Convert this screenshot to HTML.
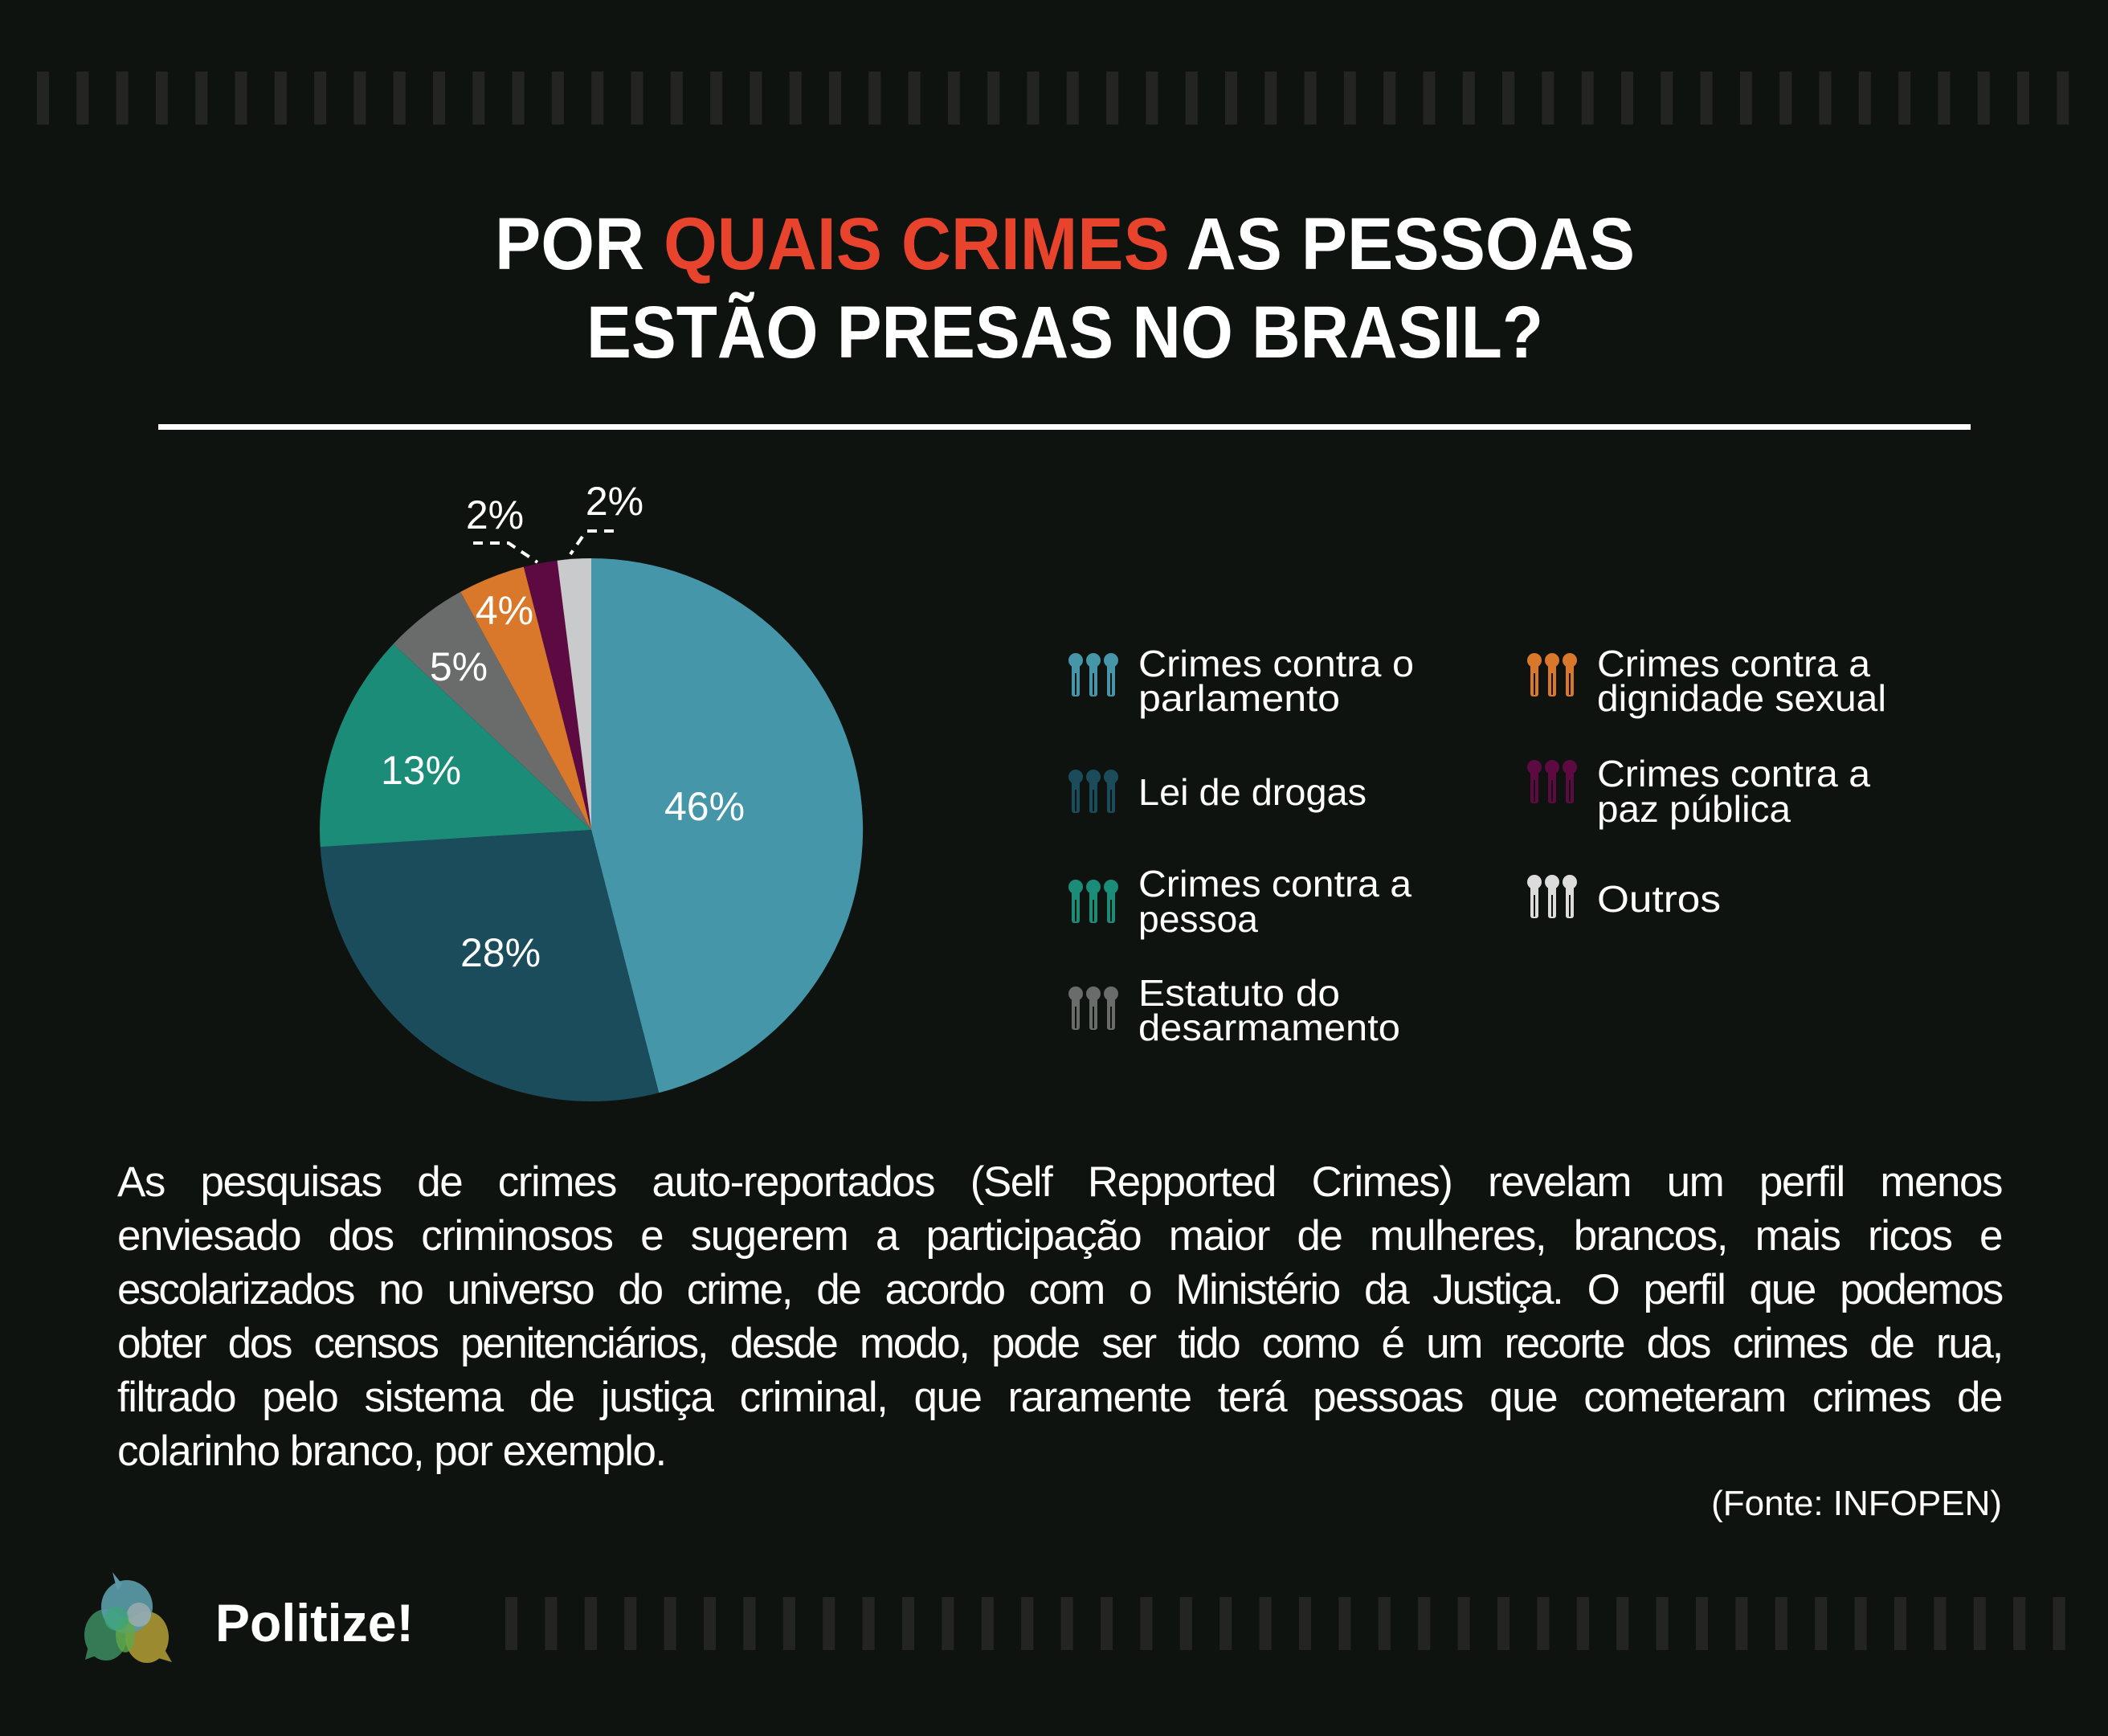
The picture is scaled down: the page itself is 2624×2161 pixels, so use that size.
<!DOCTYPE html>
<html><head><meta charset="utf-8"><style>
html,body{margin:0;padding:0;background:#0f130f;}
svg{display:block;}
text{font-family:"Liberation Sans",sans-serif;}
#para{position:absolute;left:146px;top:1438px;width:2346px;font-family:"Liberation Sans",sans-serif;font-size:53px;color:#fff;line-height:67px;letter-spacing:-1.5px;}
#para div{white-space:nowrap;text-align:justify;text-align-last:justify;height:67px;}
#para div.t{letter-spacing:-2.3px;}
#para div.last{text-align-last:left;}
</style></head><body>
<svg width="2624" height="2161" viewBox="0 0 2624 2161" xmlns="http://www.w3.org/2000/svg" style="position:absolute;left:0;top:0">
<defs>
<pattern id="tb" x="46" y="0" width="49.3" height="2161" patternUnits="userSpaceOnUse"><rect x="0" y="0" width="15" height="2161" fill="#242522"/></pattern>
<pattern id="bb" x="629" y="0" width="49.4" height="2161" patternUnits="userSpaceOnUse"><rect x="0" y="0" width="15" height="2161" fill="#242522"/></pattern>
<g id="ico">
<circle cx="9" cy="10" r="9"/><rect x="4" y="14" width="10" height="41" rx="3"/>
<rect x="8" y="26" width="2" height="27" fill="#0f130f"/>
</g>
<g id="ico3"><use href="#ico" x="0"/><use href="#ico" x="22"/><use href="#ico" x="44"/></g>
</defs>
<rect width="2624" height="2161" fill="#0f130f"/>
<rect x="46" y="89" width="2540" height="66" fill="url(#tb)"/>
<rect x="629" y="1988" width="1960" height="66" fill="url(#bb)"/>

<text y="335" x="616" font-size="92" font-weight="bold" fill="#fff" textLength="1419" lengthAdjust="spacingAndGlyphs">POR <tspan fill="#e8432d">QUAIS CRIMES</tspan> AS PESSOAS</text>
<text y="445" x="730" font-size="92" font-weight="bold" fill="#fff" textLength="1191" lengthAdjust="spacingAndGlyphs">ESTÃO PRESAS NO BRASIL?</text>
<rect x="197" y="528" width="2256" height="7" fill="#fff"/>

<g>
<path d="M736 1033 L736 695 A338 338 0 0 1 820.1 1360.4 Z" fill="#4496a8"/>
<path d="M736 1033 L820.1 1360.4 A338 338 0 0 1 398.7 1054.2 Z" fill="#1a4c5c"/>
<path d="M736 1033 L398.7 1054.2 A338 338 0 0 1 489.6 801.6 Z" fill="#1a8c78"/>
<path d="M736 1033 L489.6 801.6 A338 338 0 0 1 573.2 736.8 Z" fill="#6a6b6b"/>
<path d="M736 1033 L573.2 736.8 A338 338 0 0 1 651.9 705.6 Z" fill="#d9782a"/>
<path d="M736 1033 L651.9 705.6 A338 338 0 0 1 693.6 697.7 Z" fill="#5e0a42"/>
<path d="M736 1033 L693.6 697.7 A338 338 0 0 1 736 695 Z" fill="#c9cacb"/>
</g>
<g font-size="50" fill="#fff" text-anchor="middle">
<text x="877" y="1021">46%</text>
<text x="623" y="1203">28%</text>
<text x="524" y="976">13%</text>
<text x="571" y="847">5%</text>
<text x="628" y="777">4%</text>
<text x="616" y="658">2%</text>
<text x="765" y="641">2%</text>
</g>
<g stroke="#fff" stroke-width="4" stroke-dasharray="12 9" fill="none">
<path d="M589 676 L633 676 L669 700"/>
<path d="M731 661 L766 661"/>
<path d="M725 668 L710 690"/>
</g>

<g font-size="46" fill="#fff">
<use href="#ico3" x="1330" y="812" fill="#4496a8"/>
<text x="1417" y="842" textLength="343" lengthAdjust="spacingAndGlyphs">Crimes contra o</text>
<text x="1417" y="885" textLength="251" lengthAdjust="spacingAndGlyphs">parlamento</text>
<use href="#ico3" x="1330" y="957" fill="#1a4c5c"/>
<text x="1417" y="1002" textLength="284" lengthAdjust="spacingAndGlyphs">Lei de drogas</text>
<use href="#ico3" x="1330" y="1094" fill="#1a8c78"/>
<text x="1417" y="1116" textLength="340" lengthAdjust="spacingAndGlyphs">Crimes contra a</text>
<text x="1417" y="1160" textLength="149" lengthAdjust="spacingAndGlyphs">pessoa</text>
<use href="#ico3" x="1330" y="1227" fill="#6a6b6b"/>
<text x="1417" y="1252" textLength="251" lengthAdjust="spacingAndGlyphs">Estatuto do</text>
<text x="1417" y="1295" textLength="326" lengthAdjust="spacingAndGlyphs">desarmamento</text>

<use href="#ico3" x="1901" y="812" fill="#d9782a"/>
<text x="1988" y="842" textLength="340" lengthAdjust="spacingAndGlyphs">Crimes contra a</text>
<text x="1988" y="885" textLength="360" lengthAdjust="spacingAndGlyphs">dignidade sexual</text>
<use href="#ico3" x="1901" y="945" fill="#5e0a42"/>
<text x="1988" y="979" textLength="340" lengthAdjust="spacingAndGlyphs">Crimes contra a</text>
<text x="1988" y="1023" textLength="241" lengthAdjust="spacingAndGlyphs">paz pública</text>
<use href="#ico3" x="1901" y="1088" fill="#dcdcdc"/>
<text x="1988" y="1135" textLength="154" lengthAdjust="spacingAndGlyphs">Outros</text>
</g>

<text x="2492" y="1886" font-size="44" text-anchor="end" fill="#fff">(Fonte: INFOPEN)</text>

<g>
<path d="M140 1957 L152 1972 L146 1980 Z" fill="#5a9aa8"/>
<path d="M106 2066 L112 2040 L122 2060 Z" fill="#347a55"/>
<path d="M214 2069 L200 2045 L190 2062 Z" fill="#9b8a30"/>
<ellipse cx="132" cy="2035" rx="27" ry="32" fill="#347a55"/>
<ellipse cx="183" cy="2038" rx="27" ry="32" fill="#9b8a30"/>
<ellipse cx="158" cy="2000" rx="32" ry="33" fill="#5a9aa8" opacity="0.92"/>
<ellipse cx="156" cy="2035" rx="12" ry="22" fill="#5fa84a" opacity="0.8"/>
<circle cx="173" cy="2010" r="15" fill="#a8b0b0" opacity="0.7"/>
<circle cx="145" cy="2015" r="15" fill="#3aa57a" opacity="0.7"/>
<text x="268" y="2043" font-size="66" font-weight="bold" fill="#fff" textLength="247" lengthAdjust="spacingAndGlyphs">Politize!</text>
</g>
</svg>
<div id="para">
<div>As pesquisas de crimes auto-reportados (Self Repported Crimes) revelam um perfil menos</div>
<div>enviesado dos criminosos e sugerem a participação maior de mulheres, brancos, mais ricos e</div>
<div class="t">escolarizados no universo do crime, de acordo com o Ministério da Justiça. O perfil que podemos</div>
<div class="t">obter dos censos penitenciários, desde modo, pode ser tido como é um recorte dos crimes de rua,</div>
<div>filtrado pelo sistema de justiça criminal, que raramente terá pessoas que cometeram crimes de</div>
<div class="last">colarinho branco, por exemplo.</div>
</div>
</body></html>
